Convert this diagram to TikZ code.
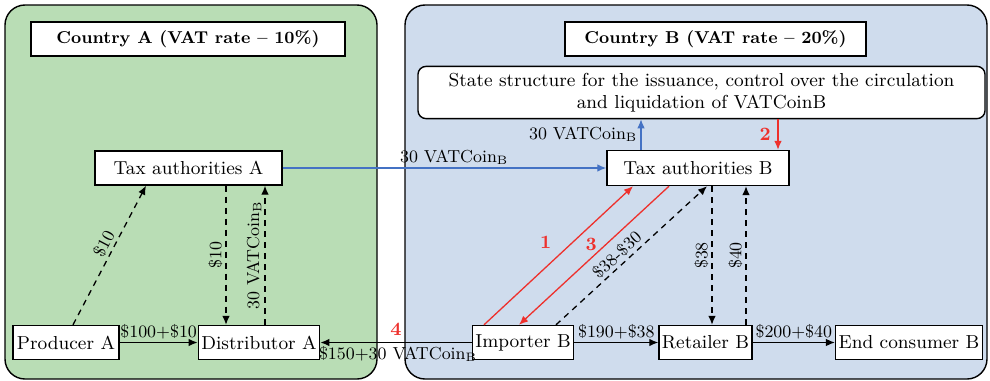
\documentclass[tikz,border=0pt]{standalone}
\usepackage{tikz}
\usetikzlibrary{arrows.meta}

\definecolor{panelA}{RGB}{185,221,181}
\definecolor{panelB}{RGB}{207,220,237}
\definecolor{flowblue}{RGB}{68,114,196}
\definecolor{flowred}{RGB}{238,48,44}

\tikzset{
  party/.style={draw, fill=white, line width=0.7pt, inner xsep=1.5pt, minimum height=17pt},
  countrybox/.style={party, font=\fontsize{8.6pt}{11pt}\bfseries},
  flow/.style={-{Latex[length=4.5pt,width=3.8pt]}, line width=0.65pt},
  tax/.style={flow, dash pattern=on 3pt off 2.5pt},
  vat/.style={flow, draw=flowblue},
  redflow/.style={flow, draw=flowred},
  money/.style={font=\fontsize{8.7pt}{10pt}\selectfont, inner sep=1.5pt},
  stepno/.style={text=flowred, font=\fontsize{9.4pt}{11pt}\bfseries},
}

\begin{document}
\begin{tikzpicture}[x=0.5pt, y=-0.5pt, font=\fontsize{9.4pt}{11pt}\selectfont]
\useasboundingbox (0,0) rectangle (990,380);
% the two countries
\draw[fill=panelA, rounded corners=10pt, line width=0.7pt] (5,5) rectangle (377,379);
\draw[fill=panelB, rounded corners=10pt, line width=0.7pt] (405,5) rectangle (987,379);

\node[countrybox, minimum width=157pt] (ca) at (188,39) {Country A (VAT rate -- 10\%)};
\node[countrybox, minimum width=150.5pt] (cb) at (715.5,39) {Country B (VAT rate -- 20\%)};
\node[party, rounded corners=4pt, minimum width=283.5pt, minimum height=25.5pt, align=center] (state) at (701.5,92.5)
    {State structure for the issuance, control over the circulation\\and liquidation of VATCoinB};

\node[party, minimum width=93.5pt] (taxA) at (188.5,168) {Tax authorities A};
\node[party, minimum width=91pt, minimum height=17.5pt] (taxB) at (698,168) {Tax authorities B};

\node[party, minimum width=53pt] (prodA) at (66,342.5) {Producer A};
\node[party, minimum width=59pt] (distA) at (259,342.5) {Distributor A};
\node[party, minimum width=50pt] (impB) at (523,342.5) {Importer B};
\node[party, minimum width=45.5pt] (retB) at (705.5,342.5) {Retailer B};
\node[party, minimum width=73pt] (endB) at (909,342.5) {End consumer B};

% country A
\draw[flow] (prodA.east) -- node[above, money] {\$100+\$10} (distA.west);
\draw[tax] ([xshift=3.5pt]prodA.north) -- node[pos=0.55, above, sloped, money] {\$10} ([xshift=-21.25pt]taxA.south);
\draw[tax] ([xshift=18.75pt]taxA.south) -- node[midway, rotate=90, anchor=south, money] {\$10} ([xshift=-16.5pt]distA.north);
\draw[tax] ([xshift=3pt]distA.north) -- node[midway, rotate=90, anchor=south, money] {30 VATCoin\textsubscript{B}} ([xshift=38.25pt]taxA.south);

% VATCoin flows
\draw[vat] (taxA.east) -- node[pos=0.53, above, money] {30 VATCoin\textsubscript{B}} (taxB.west);
\draw[vat] ([xshift=-28.5pt]taxB.north) -- node[midway, left, money] {30 VATCoin\textsubscript{B}} ([xshift=-30.25pt]state.south);
\draw[redflow] ([xshift=38.25pt]state.south) -- node[midway, left, stepno] {2} ([xshift=40pt]taxB.north);
\draw[redflow] ([xshift=-19.5pt]impB.north) -- node[midway, above left, stepno] {1} ([xshift=-32.5pt]taxB.south);
\draw[redflow] ([xshift=-14.5pt]taxB.south) -- node[pos=0.42, left, stepno, xshift=-1pt] {3} ([xshift=-2pt]impB.north);

% country B
\draw[tax] ([xshift=16.5pt]impB.north) -- node[pos=0.45, above, sloped, money] {\$38-\$30} ([xshift=4.5pt]taxB.south);
\draw[tax] ([xshift=7pt]taxB.south) -- node[midway, rotate=90, anchor=south, money] {\$38} ([xshift=3.25pt]retB.north);
\draw[tax] ([xshift=20.25pt]retB.north) -- node[midway, rotate=90, anchor=south, money] {\$40} ([xshift=24pt]taxB.south);
\draw[flow] (impB.west) -- node[above, stepno] {4} node[below, money, xshift=1pt] {\$150+30 VATCoin\textsubscript{B}} (distA.east);
\draw[flow] (impB.east) -- node[above, money] {\$190+\$38} (retB.west);
\draw[flow] (retB.east) -- node[above, money] {\$200+\$40} (endB.west);
\end{tikzpicture}
\end{document}
